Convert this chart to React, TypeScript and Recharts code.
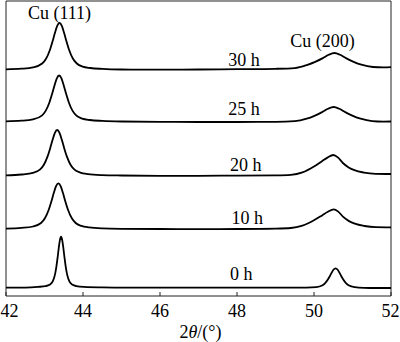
import React from 'react';
import { LineChart, Line, XAxis, YAxis, ReferenceArea, ReferenceDot, Label } from 'recharts';

const FONT = '"Liberation Serif", "Times New Roman", Times, serif';

// 2θ tick labels
const xTicks = [42, 44, 46, 48, 50, 52];

// XRD intensity (offset, arbitrary units) vs 2θ
const xrd30h: [number, number][] = [
  [42.0, 226.7], [42.4, 227.3], [42.7, 228.6], [42.94, 232.5], [43.04, 237.2], [43.14, 246.0],
  [43.21, 254.7], [43.27, 263.0], [43.33, 270.1], [43.39, 273.0], [43.45, 270.1], [43.51, 263.0],
  [43.57, 254.7], [43.64, 246.0], [43.74, 237.2], [43.84, 232.5], [43.99, 229.4], [44.19, 228.0],
  [44.5, 227.1], [45.0, 226.5], [46.0, 226.3], [47.0, 226.5], [48.0, 226.8], [49.0, 227.2],
  [49.5, 227.9], [49.83, 231.2], [50.03, 234.2], [50.23, 237.9], [50.38, 241.2], [50.53, 243.0],
  [50.68, 241.2], [50.83, 237.9], [51.03, 234.2], [51.23, 231.3], [51.53, 229.0], [51.8, 228.6],
  [52.0, 228.8],
];

const xrd25h: [number, number][] = [
  [42.0, 174.7], [42.4, 175.3], [42.7, 176.7], [42.93, 180.4], [43.03, 185.1], [43.13, 193.8],
  [43.2, 202.4], [43.26, 210.6], [43.32, 217.7], [43.38, 220.5], [43.44, 217.7], [43.5, 210.6],
  [43.56, 202.4], [43.63, 193.8], [43.73, 185.1], [43.83, 180.4], [43.98, 177.4], [44.18, 176.0],
  [44.5, 175.1], [45.0, 174.5], [46.0, 174.2], [47.0, 174.0], [48.0, 174.0], [49.0, 174.1],
  [49.5, 174.8], [49.81, 177.3], [50.01, 180.2], [50.21, 183.9], [50.36, 187.2], [50.51, 189.0],
  [50.66, 187.2], [50.81, 183.9], [51.01, 180.2], [51.21, 177.3], [51.51, 174.9], [51.8, 174.4],
  [52.0, 174.5],
];

const xrd20h: [number, number][] = [
  [42.0, 120.7], [42.4, 121.5], [42.7, 123.1], [42.88, 126.3], [42.98, 131.0], [43.08, 139.6],
  [43.15, 148.1], [43.21, 156.2], [43.27, 163.2], [43.33, 166.0], [43.39, 163.2], [43.45, 156.2],
  [43.51, 148.1], [43.58, 139.6], [43.68, 131.0], [43.78, 126.3], [43.93, 123.4], [44.13, 121.9],
  [44.5, 120.9], [45.0, 120.5], [46.0, 120.2], [47.0, 120.2], [48.0, 120.4], [49.0, 120.7],
  [49.4, 121.2], [49.7, 123.6], [50.0, 129.5], [50.2, 134.6], [50.35, 138.4], [50.5, 141.0],
  [50.62, 138.6], [50.75, 133.0], [50.9, 128.6], [51.05, 125.8], [51.3, 123.4], [51.6, 122.2],
  [52.0, 122.0],
];

const xrd10h: [number, number][] = [
  [42.0, 67.4], [42.4, 68.1], [42.7, 69.5], [42.91, 73.0], [43.01, 77.7], [43.11, 86.3],
  [43.18, 94.8], [43.24, 102.9], [43.3, 109.9], [43.36, 112.7], [43.42, 109.9], [43.48, 102.9],
  [43.54, 94.8], [43.61, 86.3], [43.71, 77.7], [43.81, 73.0], [43.96, 70.1], [44.16, 68.6],
  [44.5, 67.6], [45.0, 67.2], [46.0, 67.0], [47.0, 66.9], [48.0, 67.0], [49.0, 67.4],
  [49.4, 68.0], [49.7, 70.4], [50.01, 76.0], [50.21, 80.6], [50.36, 84.2], [50.51, 86.7],
  [50.63, 84.4], [50.76, 79.1], [50.91, 74.9], [51.06, 72.3], [51.31, 70.0], [51.6, 68.8],
  [52.0, 68.6],
];

const xrd0h: [number, number][] = [
  [42.0, 8.3], [42.5, 8.4], [42.83, 9.1], [43.03, 9.9], [43.13, 11.2], [43.21, 14.3],
  [43.27, 21.1], [43.31, 29.7], [43.34, 38.3], [43.37, 47.9], [43.4, 55.9], [43.43, 59.3],
  [43.46, 55.9], [43.49, 47.9], [43.52, 38.3], [43.55, 29.7], [43.59, 21.1], [43.65, 14.3],
  [43.73, 11.2], [43.83, 9.9], [44.03, 9.1], [44.5, 8.6], [45.0, 8.4], [46.0, 8.3],
  [47.0, 8.3], [48.0, 8.3], [49.0, 8.3], [49.8, 8.4], [50.06, 8.9], [50.21, 10.5],
  [50.29, 12.9], [50.36, 16.4], [50.41, 19.8], [50.46, 23.4], [50.51, 26.5], [50.56, 27.7],
  [50.61, 26.5], [50.66, 23.4], [50.71, 19.8], [50.76, 16.4], [50.83, 12.9], [50.91, 10.5],
  [51.06, 8.9], [51.3, 8.2], [51.6, 8.0], [52.0, 8.0],
];

const seriesNames = ['0 h', '10 h', '20 h', '25 h', '30 h'];
const seriesPoints = [xrd0h, xrd10h, xrd20h, xrd25h, xrd30h];

// annotation texts and their anchor (2θ, intensity)
const annotations: { text: string; x: number; y: number }[] = [
  { text: 'Cu (111)', x: 42.57, y: 277.5 },
  { text: 'Cu (200)', x: 49.38, y: 249.3 },
  { text: '30 h', x: 47.77, y: 230 },
  { text: '25 h', x: 47.77, y: 181 },
  { text: '20 h', x: 47.82, y: 125.5 },
  { text: '10 h', x: 47.86, y: 72 },
  { text: '0 h', x: 47.82, y: 16 },
];

const X_DOMAIN: [number, number] = [42, 52];
const Y_DOMAIN: [number, number] = [0, 295];

const AxisTick = (props: any) => {
  const { x, y, payload } = props;
  const tx = Math.min(Math.max(x, 9.5), 390.5);
  return (
    <g>
      <line x1={x} y1={y} x2={x} y2={y - 4} stroke="#222" strokeWidth={1} />
      <text x={tx} y={y + 20.5} textAnchor="middle" fontFamily={FONT} fontSize={18} fill="#000">
        {payload.value}
      </text>
    </g>
  );
};

const AxisTitle = (props: any) => {
  const vb = props.viewBox || { x: 0, y: 0, width: 0, height: 0 };
  return (
    <text x={vb.x + vb.width / 2 + 2} y={vb.y + 42} textAnchor="middle" fontFamily={FONT} fontSize={18} fill="#000">
      <tspan>2</tspan>
      <tspan fontStyle="italic">θ</tspan>
      <tspan>/(°)</tspan>
    </text>
  );
};

export default function App() {
  return (
    <div style={{ position: 'absolute', left: 0, top: 0, width: 400, height: 342, background: '#fff' }}>
      <LineChart width={400} height={342} margin={{ top: 1, right: 9, bottom: 0, left: 6 }}>
        <XAxis
          dataKey="a"
          type="number"
          domain={X_DOMAIN}
          ticks={xTicks}
          axisLine={false}
          tickLine={false}
          tickSize={0}
          tickMargin={0}
          height={46}
          tick={<AxisTick />}
          interval={0}
        >
          <Label content={<AxisTitle />} />
        </XAxis>
        <YAxis type="number" domain={Y_DOMAIN} hide width={0} />
        <ReferenceArea
          x1={42}
          x2={52}
          y1={0}
          y2={295}
          fill="none"
          fillOpacity={0}
          stroke="#222"
          strokeWidth={1}
          ifOverflow="visible"
        />
        {seriesPoints.map((pts, i) => (
          <Line
            key={seriesNames[i]}
            name={seriesNames[i]}
            data={pts.map(([a, v]) => ({ a, v }))}
            dataKey="v"
            type="monotone"
            stroke="#000"
            strokeWidth={1.8}
            dot={false}
            activeDot={false}
            isAnimationActive={false}
          />
        ))}
        {annotations.map((l) => (
          <ReferenceDot
            key={l.text}
            x={l.x}
            y={l.y}
            r={0}
            ifOverflow="visible"
            shape={(p: any) => (
              <text x={p.cx} y={p.cy} fontFamily={FONT} fontSize={18} fill="#000">
                {l.text}
              </text>
            )}
          />
        ))}
      </LineChart>
    </div>
  );
}
